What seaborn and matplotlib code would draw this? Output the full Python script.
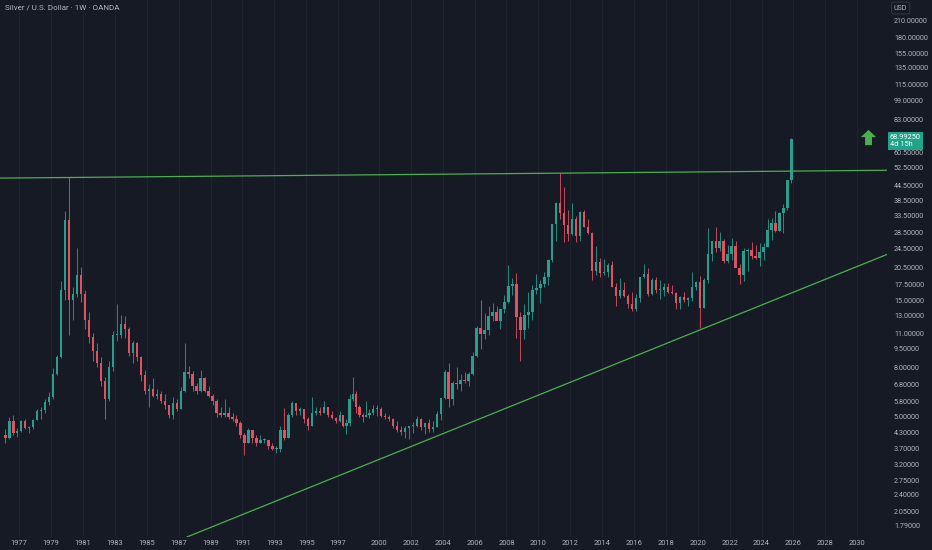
import numpy as np
import pandas as pd
import matplotlib
matplotlib.use("Agg")
from matplotlib import pyplot as plt
from matplotlib.transforms import blended_transform_factory
import seaborn as sns

# quarterly candles (1976 Q1 .. 2025 Q4)
first_open = 4.20
highs = [
    4.45, 5.00, 5.10, 4.50,   4.85, 4.90, 4.60, 4.90,   5.40, 5.50, 5.90, 6.30,
    7.90, 9.00, 18.0, 35.0,   48.0, 17.0, 24.5, 20.5,   16.5, 13.5, 11.0, 10.0,
    8.80, 7.30, 8.50, 11.2,   14.5, 13.1, 12.9, 11.7,   10.2, 10.1, 8.90, 7.80,
    6.80, 7.20, 6.50, 6.40,   6.20, 5.60, 6.00, 5.90,   6.60, 10.0, 8.10, 7.70,
    6.90, 7.80, 7.30, 6.70,   6.20, 5.90, 5.50, 5.90,   5.50, 5.20, 5.10, 4.80,
    4.30, 4.50, 4.40, 4.20,   4.20, 4.10, 3.95, 3.90,   3.80, 4.60, 5.45, 5.20,
    5.80, 5.70, 5.50, 5.40,   5.00, 6.00, 5.50, 5.50,   5.80, 5.50, 5.30, 5.00,
    5.30, 5.00, 4.90, 6.20,   7.30, 6.40, 5.60, 5.20,   5.80, 5.40, 5.60, 5.60,
    5.50, 5.20, 5.10, 4.95,   4.80, 4.60, 4.60, 4.60,   4.75, 5.05, 4.95, 4.65,
    4.90, 4.80, 5.30, 5.95,   7.80, 8.30, 7.00, 8.00,   7.50, 7.60, 7.60, 9.20,
    11.8, 15.0, 13.3, 14.2,   14.6, 14.2, 13.9, 15.8,   21.0, 18.5, 19.5, 13.5,
    14.5, 16.3, 17.3, 19.2,   18.2, 19.7, 22.2, 31.0,   38.0, 49.8, 43.8, 35.4,
    37.5, 33.4, 35.0, 35.4,   32.4, 28.5, 25.2, 22.3,   22.2, 21.3, 21.8, 17.7,
    18.5, 17.8, 16.0, 16.2,   16.0, 18.8, 21.1, 20.3,   18.5, 18.7, 18.2, 17.7,
    17.7, 17.3, 16.3, 15.6,   16.2, 15.5, 19.7, 18.0,   18.9, 18.5, 29.8, 26.0,
    30.1, 28.7, 26.8, 25.4,   27.0, 26.2, 21.2, 24.5,   24.6, 26.1, 25.3, 25.9,
    25.8, 32.5, 32.7, 34.9,   34.6, 37.3, 46.9, 69.5,
]
lows = [
    3.90, 4.05, 4.20, 4.15,   4.35, 4.45, 4.30, 4.45,   4.85, 4.90, 5.20, 5.60,
    5.90, 7.40, 8.70, 15.0,   10.8, 12.5, 15.5, 14.8,   11.5, 10.0, 8.50, 8.00,
    6.70, 4.90, 5.80, 7.70,   10.2, 10.5, 10.5, 8.90,   8.30, 8.50, 7.00, 6.20,
    5.50, 6.00, 5.90, 5.70,   5.40, 4.95, 4.90, 5.30,   5.40, 6.30, 7.20, 6.40,
    6.20, 6.30, 6.30, 6.00,   5.60, 5.00, 5.00, 5.00,   4.90, 4.80, 4.60, 4.10,
    3.50, 3.90, 3.90, 3.80,   3.90, 3.90, 3.70, 3.65,   3.55, 3.60, 4.00, 4.10,
    5.00, 5.10, 5.10, 4.70,   4.40, 4.60, 5.10, 5.10,   5.20, 5.00, 4.90, 4.70,
    4.75, 4.55, 4.25, 4.60,   5.80, 5.20, 5.00, 4.75,   5.00, 4.95, 5.10, 5.05,
    5.00, 4.90, 4.80, 4.50,   4.35, 4.20, 4.10, 4.05,   4.30, 4.55, 4.40, 4.25,
    4.35, 4.35, 4.55, 4.85,   5.90, 5.50, 5.60, 6.50,   6.40, 6.90, 6.70, 7.40,
    8.80, 9.50, 10.4, 10.8,   12.4, 12.5, 11.5, 13.3,   14.6, 15.8, 10.5, 8.50,
    10.4, 11.6, 12.5, 16.0,   14.7, 17.0, 17.3, 21.5,   26.4, 32.3, 26.1, 26.2,
    27.9, 26.1, 26.2, 29.9,   28.0, 18.2, 19.0, 18.8,   19.0, 18.7, 17.0, 14.2,
    15.3, 15.5, 14.0, 13.6,   13.6, 14.8, 18.6, 15.6,   15.8, 16.1, 15.2, 15.6,
    16.1, 16.0, 13.9, 13.9,   14.8, 14.3, 14.9, 16.5,   11.6, 14.0, 17.7, 21.8,
    23.8, 24.0, 21.4, 21.4,   21.9, 20.5, 17.6, 18.1,   19.9, 22.1, 22.1, 20.7,
    21.9, 24.9, 26.5, 28.7,   28.8, 28.3, 35.4, 45.5,
]
closes = [
    4.10, 4.80, 4.30, 4.37,   4.80, 4.50, 4.55, 4.85,   5.30, 5.35, 5.75, 6.00,
    7.50, 8.80, 16.5, 32.0,   15.0, 16.0, 19.0, 16.0,   12.5, 10.6, 9.30, 8.30,
    7.00, 5.90, 8.00, 10.8,   10.8, 12.0, 11.5, 9.10,   10.0, 8.80, 7.40, 6.40,
    6.50, 6.10, 6.20, 5.80,   5.60, 5.10, 5.70, 5.40,   6.40, 7.60, 7.50, 6.70,
    6.40, 7.20, 6.40, 6.10,   5.80, 5.20, 5.10, 5.20,   5.00, 4.90, 4.70, 4.20,
    3.90, 4.40, 4.10, 3.90,   4.00, 4.00, 3.80, 3.70,   3.70, 4.40, 4.10, 5.10,
    5.70, 5.30, 5.40, 4.90,   4.60, 5.20, 5.30, 5.20,   5.50, 5.10, 4.95, 4.80,
    5.10, 4.60, 4.70, 5.90,   6.20, 5.50, 5.10, 5.00,   5.10, 5.20, 5.40, 5.40,
    5.05, 5.00, 4.90, 4.60,   4.40, 4.35, 4.50, 4.60,   4.60, 4.90, 4.55, 4.70,
    4.45, 4.55, 5.15, 5.95,   7.60, 5.90, 6.90, 6.80,   7.10, 7.00, 7.50, 8.90,
    11.6, 10.9, 11.4, 12.9,   13.4, 12.4, 13.8, 14.8,   17.2, 17.5, 12.8, 11.3,
    13.1, 13.5, 16.6, 16.9,   17.5, 18.7, 22.0, 30.9,   37.8, 34.3, 30.5, 28.2,
    32.4, 27.5, 34.5, 30.0,   28.4, 19.8, 21.6, 19.4,   19.7, 21.0, 17.1, 15.6,
    16.6, 15.6, 14.5, 13.8,   15.4, 18.7, 19.2, 15.9,   18.2, 16.6, 16.6, 17.1,
    16.3, 16.1, 14.6, 15.5,   15.1, 15.3, 17.0, 17.9,   14.0, 18.2, 23.3, 26.4,
    24.5, 26.2, 21.7, 23.3,   25.1, 20.3, 19.0, 24.0,   24.1, 22.8, 22.3, 23.8,
    24.9, 29.1, 31.1, 28.9,   34.1, 36.0, 46.6, 68.9925,
]

# hand drawn trendlines (date, price) and the last price
flat_line = [(1980.05, 47.9), (2011.30, 49.9)]
rising_line = [(2001.90, 3.75), (2020.20, 11.4)]
last_price = 68.9925
bar_countdown = "4d 15h"
arrow_at = (2030.65, 70.0)

x_years = [1977, 1979, 1981, 1983, 1985, 1987, 1989, 1991, 1993, 1995, 1997,
           2000, 2002, 2004, 2006, 2008, 2010, 2012, 2014, 2016, 2018, 2020,
           2022, 2024, 2026, 2028, 2030]
y_ticks = [1.79, 2.05, 2.4, 2.75, 3.2, 3.7, 4.3, 5.0, 5.8, 6.8, 8.0, 9.5, 11.0,
           13.0, 15.0, 17.5, 20.5, 24.5, 28.5, 33.5, 38.5, 44.5, 52.5, 60.5,
           83.0, 99.0, 115.0, 135.0, 155.0, 180.0, 210.0]


def axis_pos(t):
    """Bar-index style time axis: OANDA has a few weeks missing in 1997-99."""
    t = np.asarray(t, dtype=float)
    return t - np.clip((t - 1997.0) / 2.5, 0, 1) * 0.44


df = pd.DataFrame({"high": highs, "low": lows, "close": closes})
df["open"] = df["close"].shift(1).fillna(first_open)
df["t"] = 1976.125 + 0.25 * np.arange(len(df))
df["x"] = axis_pos(df["t"])
df["up"] = df["close"] >= df["open"]

BG = "#161a25"
GRID = "#1f2330"
TXT = "#b2b5be"
UP = "#2a9d8f"
DOWN = "#e05261"
LINE = "#4caf50"

sns.set_theme(style="dark", rc={"axes.facecolor": BG, "figure.facecolor": BG})
plt.rcParams["font.family"] = ["Roboto", "DejaVu Sans"]

fig = plt.figure(figsize=(9.32, 5.5), dpi=100)
ax = fig.add_axes([0, 13 / 550, 887 / 932, 537 / 550])
ax.set_facecolor(BG)
ax.set_yscale("log")

for yr in x_years:
    ax.axvline(axis_pos(yr), color=GRID, lw=0.8, zorder=0)

colors = np.where(df["up"], UP, DOWN)
ax.vlines(df["x"], df["low"], df["high"], colors=colors, lw=0.6, zorder=2)
body_lo = np.minimum(df["open"], df["close"])
body_hi = np.maximum(df["open"], df["close"])
body_hi = np.maximum(body_hi, body_lo * 1.01)
ax.bar(df["x"], body_hi - body_lo, bottom=body_lo, width=0.15,
       color=colors, linewidth=0, zorder=3)

for pts in (flat_line, rising_line):
    (t1, p1), (t2, p2) = pts
    ax.axline((float(axis_pos(t1)), p1), (float(axis_pos(t2)), p2),
              color=LINE, lw=0.9, zorder=4)

arrow = [(0, 1), (1, 0.05), (0.45, 0.05), (0.45, -1), (-0.45, -1),
         (-0.45, 0.05), (-1, 0.05)]
ax.plot([float(axis_pos(arrow_at[0]))], [arrow_at[1]], marker=arrow,
        markersize=11, color=LINE, markeredgewidth=0, zorder=5)

ax.set_xlim(1975.79, 2031.43)
ax.set_ylim(1.607, 256)

ax.set_xticks(axis_pos(x_years))
ax.set_xticklabels([str(y) for y in x_years])
ax.set_yticks(y_ticks)
ax.set_yticklabels(["%.5f" % v for v in y_ticks])
ax.yaxis.set_minor_locator(matplotlib.ticker.NullLocator())
ax.tick_params(axis="y", left=False, right=False, labelleft=False,
               labelright=True, length=0, pad=5, labelsize=5.2, colors=TXT)
ax.tick_params(axis="x", length=0, pad=2.5, labelsize=5.4, colors=TXT)
ax.grid(False)
for s in ax.spines.values():
    s.set_visible(False)

blend = blended_transform_factory(ax.transAxes, ax.transData)
ax.annotate("%.5f\n%s" % (last_price, bar_countdown), xy=(1.0, last_price),
            xycoords=blend, xytext=(3, 5), textcoords="offset pixels",
            ha="left", va="top", fontsize=5.3, color="white", linespacing=1.0,
            annotation_clip=False, zorder=10,
            bbox=dict(boxstyle="square,pad=0.25", fc="#1fa38a", ec="none"))

fig.text(5 / 932, 1 - 7 / 550, "Silver / U.S. Dollar · 1W · OANDA",
         ha="left", va="center", fontsize=5.8, color=TXT)
fig.text(894 / 932, 1 - 8 / 550, "USD", ha="left", va="center",
         fontsize=5.0, color=TXT,
         bbox=dict(boxstyle="round,pad=0.35,rounding_size=0.3", fc=BG,
                   ec="#363a45", lw=0.6))

fig.savefig("out.png", dpi=100, facecolor=BG)
